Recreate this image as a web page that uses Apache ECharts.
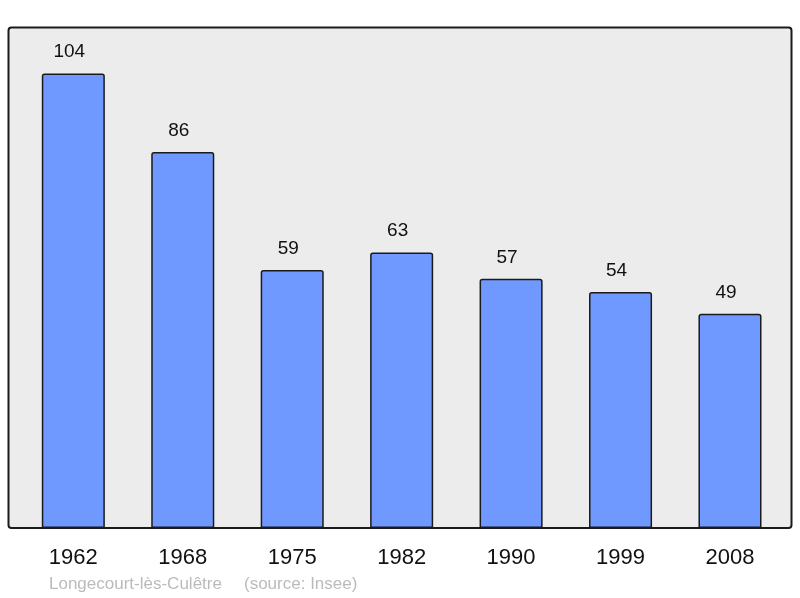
<!DOCTYPE html>
<html>
<head>
<meta charset="utf-8">
<script src="https://cdn.jsdelivr.net/npm/echarts@6/dist/echarts.min.js"></script>
<style>
  html, body { margin: 0; padding: 0; background: #fff; }
  #chart { width: 800px; height: 598px; }
</style>
</head>
<body>
<div id="chart"></div>
<script>
// années du recensement
const years = ['1962', '1968', '1975', '1982', '1990', '1999', '2008']
// population
const population = [104, 86, 59, 63, 57, 54, 49]
const placeText = 'Longecourt-lès-Culêtre'
const sourceText = '(source: Insee)'

const chart = echarts.init(document.getElementById('chart'))

chart.setOption({
  animation: false,
  textStyle: { fontFamily: 'Liberation Sans, Arial, sans-serif' },
  graphic: [
    {
      // cadre gris du graphique
      type: 'rect',
      z: -10,
      shape: { x: 8.5, y: 27.5, width: 783, height: 500.5, r: 3 },
      style: { fill: '#ececec', stroke: '#1a1a1a', lineWidth: 2 }
    },
    {
      type: 'text',
      left: 49,
      top: 576,
      style: {
        text: placeText,
        fill: '#bbbbbb',
        font: '17px Liberation Sans, Arial, sans-serif'
      }
    },
    {
      type: 'text',
      left: 244,
      top: 576,
      style: {
        text: sourceText,
        fill: '#bbbbbb',
        font: '17px Liberation Sans, Arial, sans-serif'
      }
    }
  ],
  grid: { left: 18.6, right: 15.3, top: 27.5, bottom: 70 },
  xAxis: {
    type: 'category',
    data: years,
    axisLine: { show: false },
    axisTick: { show: false },
    axisLabel: {
      color: '#111',
      fontSize: 22,
      margin: 19
    }
  },
  yAxis: {
    type: 'value',
    min: 0,
    max: 114.5,
    show: false,
    splitLine: { show: false }
  },
  series: [
    {
      type: 'bar',
      data: population,
      barWidth: '57.6%',
      itemStyle: {
        color: '#7099ff',
        borderColor: '#1a1a1a',
        borderWidth: 1.5,
        borderRadius: [2, 2, 0, 0]
      },
      label: {
        show: true,
        position: 'top',
        distance: 12,
        offset: [-4, 0],
        color: '#111',
        fontSize: 19
      }
    }
  ]
})
</script>
</body>
</html>
